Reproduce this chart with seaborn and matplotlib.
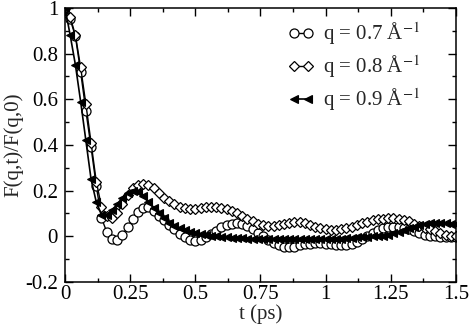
import numpy as np
import seaborn as sns
import matplotlib
matplotlib.use("Agg")
import matplotlib.pyplot as plt
from matplotlib.ticker import MultipleLocator, FormatStrFormatter

# time grid (ps)
t = np.round(np.arange(0, 1.501, 0.02), 2)

# F(q,t)/F(q,0)
q07 = [1.0, 0.95, 0.875, 0.72, 0.55, 0.39, 0.22, 0.08, 0.02, -0.01,
       -0.018, 0.005, 0.04, 0.075, 0.105, 0.125, 0.128, 0.112, 0.09, 0.07,
       0.05, 0.03, 0.01, -0.005, -0.015, -0.02, -0.018, -0.005, 0.01, 0.025,
       0.04, 0.05, 0.055, 0.057, 0.055, 0.045, 0.03, 0.015, 0.0, -0.015,
       -0.03, -0.04, -0.045, -0.047, -0.045, -0.04, -0.035, -0.032, -0.03, -0.03,
       -0.032, -0.035, -0.038, -0.04, -0.04, -0.035, -0.025, -0.012, 0.0, 0.015,
       0.027, 0.035, 0.04, 0.042, 0.04, 0.036, 0.03, 0.022, 0.015, 0.008,
       0.003, 0.0, -0.003, -0.005, -0.005, -0.005]

q08 = [1.0, 0.96, 0.88, 0.74, 0.58, 0.41, 0.24, 0.13, 0.09, 0.08,
       0.10, 0.14, 0.18, 0.21, 0.225, 0.23, 0.225, 0.21, 0.19, 0.17,
       0.155, 0.14, 0.13, 0.125, 0.12, 0.12, 0.125, 0.13, 0.13, 0.13,
       0.125, 0.12, 0.11, 0.10, 0.09, 0.075, 0.065, 0.055, 0.048, 0.045,
       0.045, 0.05, 0.055, 0.06, 0.063, 0.062, 0.058, 0.05, 0.042, 0.035,
       0.03, 0.027, 0.027, 0.03, 0.035, 0.042, 0.05, 0.057, 0.064, 0.07,
       0.075, 0.078, 0.08, 0.08, 0.078, 0.073, 0.065, 0.056, 0.047, 0.038,
       0.03, 0.022, 0.015, 0.008, 0.003, 0.0]

q09 = [1.0, 0.88, 0.75, 0.59, 0.42, 0.25, 0.15, 0.095, 0.095, 0.115,
       0.14, 0.17, 0.19, 0.20, 0.195, 0.175, 0.15, 0.125, 0.10, 0.08,
       0.06, 0.045, 0.035, 0.028, 0.02, 0.015, 0.01, 0.006, 0.003, 0.0,
       -0.002, -0.004, -0.006, -0.008, -0.009, -0.01, -0.01, -0.01, -0.01, -0.01,
       -0.01, -0.01, -0.01, -0.01, -0.01, -0.01, -0.01, -0.01, -0.01, -0.01,
       -0.01, -0.01, -0.01, -0.01, -0.008, -0.006, -0.004, -0.002, -0.001, 0.0,
       0.0, 0.003, 0.008, 0.013, 0.02, 0.028, 0.036, 0.043, 0.05, 0.055,
       0.057, 0.058, 0.058, 0.057, 0.055, 0.053]

labels = [r"q = 0.7 Å$^{-1}$", r"q = 0.8 Å$^{-1}$", r"q = 0.9 Å$^{-1}$"]

sns.set_style("ticks")
plt.rcParams["font.family"] = ["Liberation Serif", "DejaVu Serif"]
plt.rcParams["mathtext.fontset"] = "stix"

fig = plt.figure(figsize=(4.69, 3.31), dpi=100)
ax = fig.add_axes([0.1386, 0.148, 0.8336, 0.828])

sns.lineplot(x=t, y=q07, ax=ax, color="black", lw=1, marker="o", ms=6.5,
             markerfacecolor="white", markeredgecolor="black", mew=0.9,
             label=labels[0])
sns.lineplot(x=t, y=q08, ax=ax, color="black", lw=1, marker="D", ms=5,
             markerfacecolor="white", markeredgecolor="black", mew=0.9,
             label=labels[1])
sns.lineplot(x=t, y=q09, ax=ax, color="black", lw=1.2, marker="<", ms=6,
             markerfacecolor="black", markeredgecolor="black", mew=0.8,
             label=labels[2])

ax.set_xlim(0, 1.5)
ax.set_ylim(-0.2, 1.0)
ax.xaxis.set_major_locator(MultipleLocator(0.25))
ax.xaxis.set_minor_locator(MultipleLocator(0.125))
ax.yaxis.set_major_locator(MultipleLocator(0.2))
ax.yaxis.set_minor_locator(MultipleLocator(0.1))
ax.xaxis.set_major_formatter(FormatStrFormatter("%g"))
ax.yaxis.set_major_formatter(FormatStrFormatter("%g"))
ax.tick_params(which="both", direction="in", top=True, right=True,
               labelsize=15, width=1, color="black", labelcolor="black")
ax.tick_params(which="major", length=6)
ax.tick_params(axis="x", which="major", pad=2)
ax.tick_params(axis="y", which="major", pad=5)
ax.tick_params(which="minor", length=3)
for s in ax.spines.values():
    s.set_linewidth(1.1)
    s.set_color("black")

ax.set_xlabel("t (ps)", fontsize=15, labelpad=0)
ax.set_ylabel("F(q,t)/F(q,0)", fontsize=15, labelpad=1)

ax.legend(loc="upper right", bbox_to_anchor=(0.93, 0.985), frameon=False,
          numpoints=2, handlelength=1.3, handletextpad=0.4, fontsize=15,
          borderaxespad=0, labelspacing=0.3)

fig.savefig("out.png", dpi=100)
